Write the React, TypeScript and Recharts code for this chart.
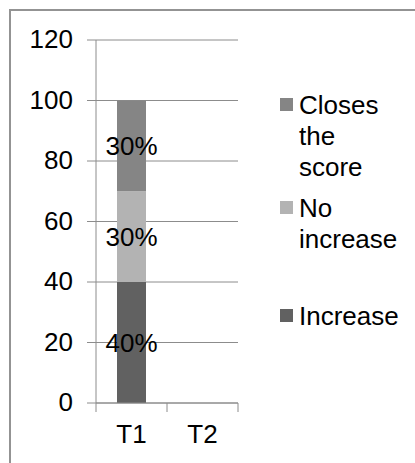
import { BarChart, Bar, XAxis, YAxis, CartesianGrid, Legend, LabelList } from 'recharts'

const FONT = '"Liberation Sans", Arial, sans-serif'
const LINE = '#8c8c8c'
const SIZE = 26

// Survey periods on the x axis
const PERIODS = ['T1', 'T2']
// Share of answers per period (T2 has no answers yet)
const INCREASE = [40, null]
const NO_INCREASE = [30, null]
const CLOSES_SCORE = [30, null]
const Y_TICKS = [0, 20, 40, 60, 80, 100, 120]

const SERIES = [
  { key: 'increase', name: 'Increase', values: INCREASE, color: '#616161' },
  { key: 'noIncrease', name: 'No increase', values: NO_INCREASE, color: '#b3b3b3' },
  { key: 'closes', name: 'Closes the score', values: CLOSES_SCORE, color: '#858585' },
]

const rows = PERIODS.map((period, i) => {
  const row: Record<string, string | number | null> = { period }
  SERIES.forEach(s => { row[s.key] = s.values[i] })
  return row
})

const pct = (v: unknown) => (v == null ? '' : `${v}%`)

// category ticks sit on the band edges, label in the middle of the band
function PeriodTick(props: any) {
  const { x, y, payload, index, visibleTicksCount, width } = props
  const half = width && visibleTicksCount ? width / visibleTicksCount / 2 : 35.5
  const last = index === visibleTicksCount - 1
  return (
    <g>
      <line x1={x - half} x2={x - half} y1={y} y2={y + 9} stroke={LINE} />
      {last && <line x1={x + half} x2={x + half} y1={y} y2={y + 9} stroke={LINE} />}
      <text x={x} y={y + 40} textAnchor="middle" fill="#000" fontSize={SIZE} fontFamily={FONT}>
        {payload.value}
      </text>
    </g>
  )
}

// legend stacked top-down in reverse series order, long names wrap
const SLOT_HEIGHTS = [103, 108, 40]
function SideLegend(props: any) {
  const payload: any[] = props.payload ?? []
  const ordered = [...SERIES].reverse().map(s => payload.find(p => p.value === s.name) ?? { value: s.name, color: s.color })
  return (
    <div style={{ fontFamily: FONT, fontSize: SIZE, lineHeight: '31px', color: '#000' }}>
      {ordered.map((item, i) => (
        <div key={item.value} style={{ display: 'flex', alignItems: 'flex-start', height: SLOT_HEIGHTS[i] }}>
          <span style={{ width: 13, height: 13, marginTop: 8.5, background: item.color, flex: 'none' }} />
          <span style={{ marginLeft: 6, width: 100 }}>{item.value}</span>
        </div>
      ))}
    </div>
  )
}

export default function App() {
  return (
    <div style={{ position: 'absolute', left: 0, top: 0, width: 415, height: 463, overflow: 'hidden', background: '#fff' }}>
      <div style={{ position: 'absolute', left: 9, top: 9, width: 480, height: 520, border: '2px solid #939393' }} />
      <div style={{ position: 'absolute', left: 0, top: 0 }}>
        <BarChart width={415} height={463} data={rows} margin={{ top: 40, right: 177, bottom: 0, left: 0 }}>
          <CartesianGrid vertical={false} stroke={LINE} />
          <XAxis
            dataKey="period"
            height={60}
            axisLine={{ stroke: LINE }}
            tickLine={false}
            tickSize={0}
            tickMargin={0}
            interval={0}
            tick={<PeriodTick />}
          />
          <YAxis
            width={96}
            domain={[0, 120]}
            ticks={Y_TICKS}
            interval={0}
            axisLine={{ stroke: LINE }}
            tickLine={{ stroke: LINE }}
            tickSize={9}
            tickMargin={14}
            tick={{ fill: '#000', fontSize: SIZE, fontFamily: FONT, dy: -1 }}
          />
          <Legend
            layout="vertical"
            align="center"
            verticalAlign="middle"
            content={<SideLegend />}
            wrapperStyle={{ left: 280, top: 89.5, width: 130 }}
          />
          {SERIES.map(s => (
            <Bar key={s.key} dataKey={s.key} name={s.name} stackId="a" fill={s.color} barSize={29} isAnimationActive={false}>
              <LabelList dataKey={s.key} position="center" formatter={pct} fill="#000" fontSize={SIZE} fontFamily={FONT} />
            </Bar>
          ))}
        </BarChart>
      </div>
    </div>
  )
}
